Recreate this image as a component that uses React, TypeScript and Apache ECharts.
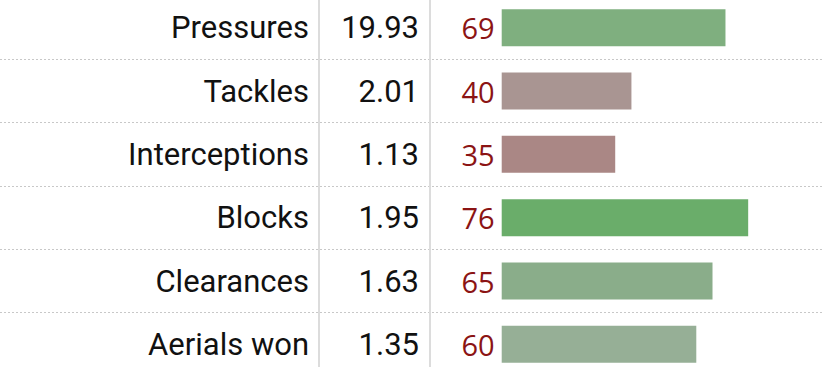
import React, { useEffect, useRef } from "react";
import * as echarts from "echarts";

const categories = ["Pressures", "Tackles", "Interceptions", "Blocks", "Clearances", "Aerials won"];
const perNinety = ["19.93", "2.01", "1.13", "1.95", "1.63", "1.35"];
const percentiles = [69, 40, 35, 76, 65, 60];
const barColors = ["#7faf7f", "#a99592", "#aa8785", "#6aad6a", "#8aad8a", "#96af96"];

export default function App() {
  const ref = useRef<HTMLDivElement>(null);
  useEffect(() => {
    if (!ref.current) return;
    const chart = echarts.init(ref.current, undefined, { renderer: "svg" });
    const labelBase = {
      fontFamily: "Roboto",
      fontSize: 31,
      color: "#111111",
    };
    chart.setOption({
      animation: false,
      grid: { left: 0, right: 0, top: 0, bottom: 0, containLabel: false },
      xAxis: {
        type: "value",
        min: -154.7,
        max: 99.07,
        show: false,
        splitLine: { show: false },
      },
      yAxis: [
        {
          type: "category",
          inverse: true,
          data: categories,
          position: "left",
          offset: -319,
          axisLine: { show: true, onZero: false, lineStyle: { color: "#dcdcdc", width: 2 } },
          axisTick: { show: false },
          axisLabel: { ...labelBase, margin: 10, interval: 0 },
          splitLine: {
            show: true,
            interval: 0,
            lineStyle: { color: "#c8c8c8", width: 1, type: [2, 2] },
          },
        },
        {
          type: "category",
          inverse: true,
          data: perNinety,
          position: "left",
          offset: -430,
          axisLine: { show: true, onZero: false, lineStyle: { color: "#dcdcdc", width: 2 } },
          axisTick: { show: false },
          axisLabel: { ...labelBase, margin: 11, interval: 0 },
          splitLine: { show: false },
        },
      ],
      series: [
        {
          type: "bar",
          yAxisIndex: 0,
          barWidth: 37,
          data: percentiles.map((v, i) => ({ value: v, itemStyle: { color: barColors[i] } })),
          label: {
            show: true,
            position: "left",
            distance: 7,
            formatter: "{c}",
            fontFamily: "Open Sans",
            fontSize: 29,
            color: "#8b1414",
          },
        },
      ],
    });
    return () => chart.dispose();
  }, []);
  return (
    <div style={{ position: "absolute", left: 0, top: 0, width: 823, height: 367, overflow: "hidden", background: "#fff" }}>
      <div
        ref={ref}
        style={{ position: "absolute", left: 0, top: -4, width: 823, height: 379.5 }}
      />
    </div>
  );
}
